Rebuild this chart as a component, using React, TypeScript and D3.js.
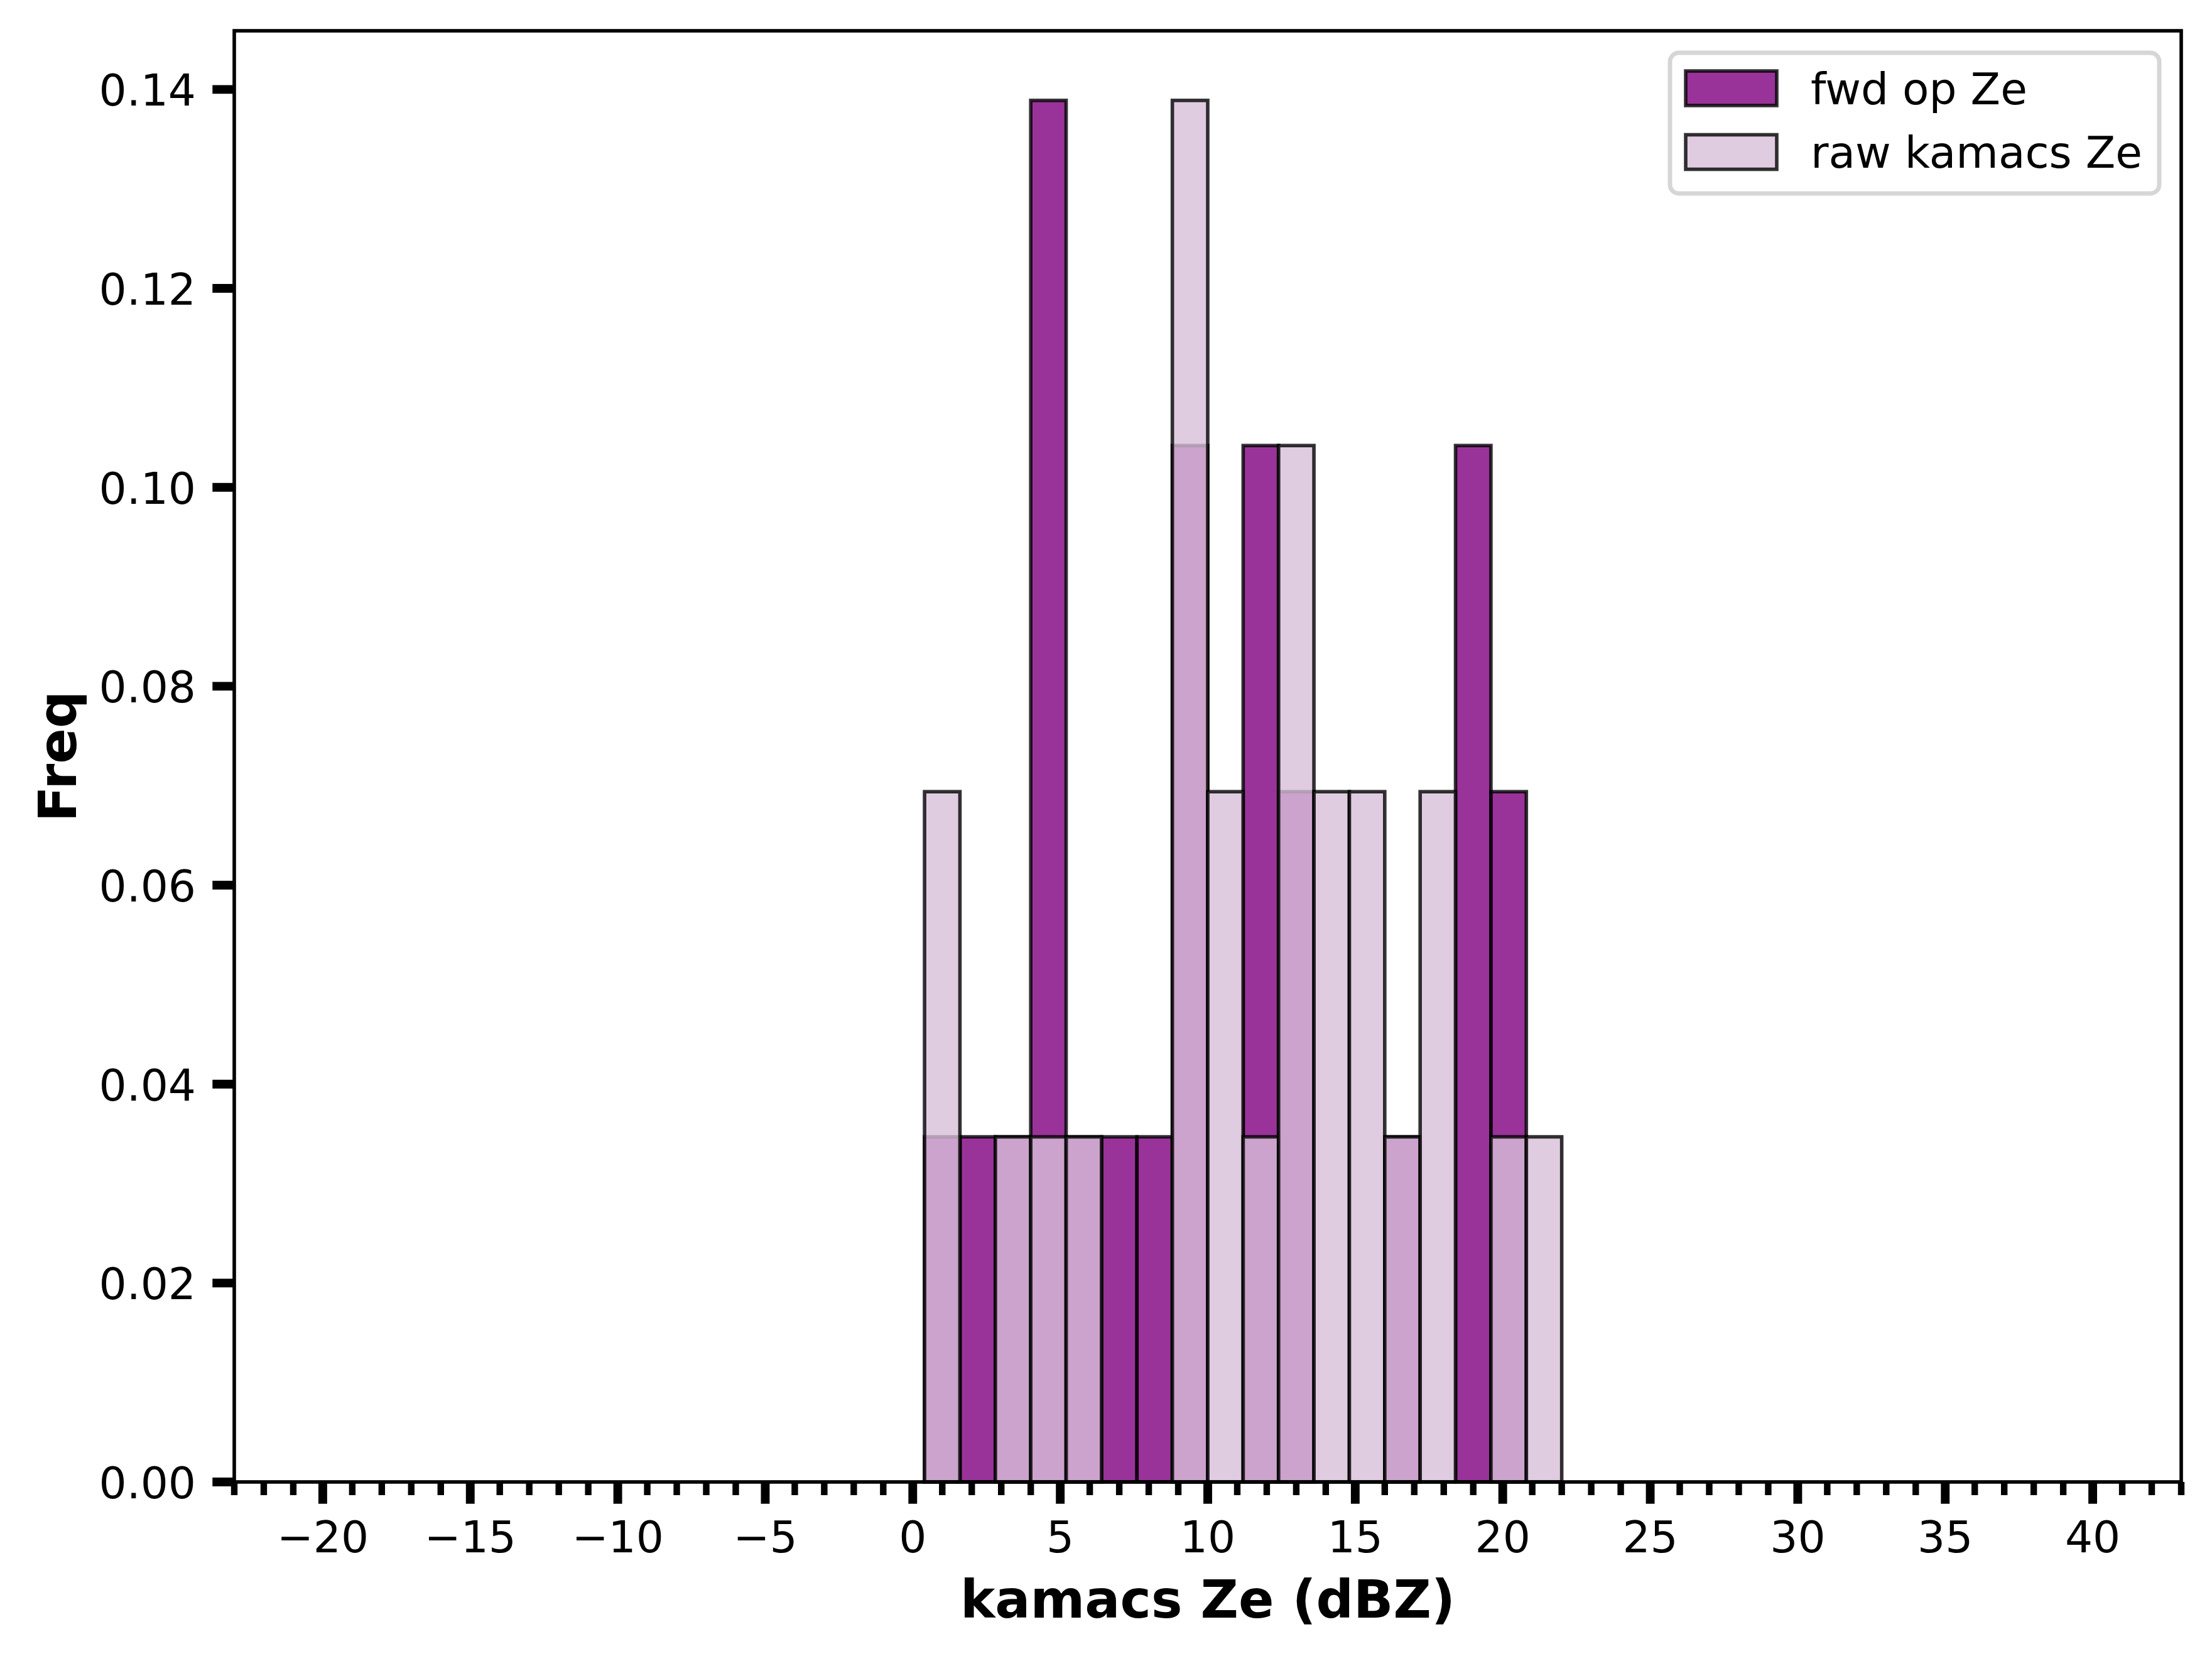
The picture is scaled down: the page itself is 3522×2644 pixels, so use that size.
import { useEffect } from "react";
import * as d3 from "d3";

// histogram bins (dBZ), shared by both series
const binEdges = [0.4, 1.6, 2.8, 4.0, 5.2, 6.4, 7.6, 8.8, 10.0, 11.2, 12.4, 13.6, 14.8, 16.0, 17.2, 18.4, 19.6, 20.8, 22.0];

// density per bin
const fwdFreq = [0.0347, 0.0347, 0.0347, 0.1389, 0.0347, 0.0347, 0.0347, 0.1042, 0, 0.1042, 0.0694, 0, 0, 0.0347, 0, 0.1042, 0.0694, 0];
const rawFreq = [0.0694, 0, 0.0347, 0.0347, 0.0347, 0, 0, 0.1389, 0.0694, 0.0347, 0.1042, 0.0694, 0.0694, 0.0347, 0.0694, 0, 0.0347, 0.0347];

const seriesNames = ["fwd op Ze", "raw kamacs Ze"];
const seriesColors = ["#800080", "#d8bfd8"];

const xMajorTicks = [-20, -15, -10, -5, 0, 5, 10, 15, 20, 25, 30, 35, 40];
const yTicks = [0, 0.02, 0.04, 0.06, 0.08, 0.1, 0.12, 0.14];

const W = 3522;
const H = 2644;
const FONT = "DejaVu Sans, Verdana, sans-serif";

const App = () => {
  useEffect(() => {
    document.body.style.margin = "0";
  }, []);

  const x = d3.scaleLinear().domain([-23, 43]).range([373, 3473]);
  const y = d3.scaleLinear().domain([0, 0.1459]).range([2359, 49]);
  const [x0, x1] = x.range();
  const [yb, yt] = y.range();

  const minorTicks = d3.range(-23, 44);
  const fmtY = d3.format(".2f");
  const fmtX = (v: number) => (v < 0 ? "\u2212" + Math.abs(v) : String(v));

  const bars = (vals: number[], color: string, key: string) =>
    vals.map((v, i) => {
      if (v <= 0) return null;
      const xa = x(binEdges[i]);
      const xb = x(binEdges[i + 1]);
      return (
        <rect
          key={key + i}
          x={xa}
          y={y(v)}
          width={xb - xa}
          height={yb - y(v)}
          fill={color}
          fillOpacity={0.8}
          stroke="#000"
          strokeOpacity={0.8}
          strokeWidth={5.6}
        />
      );
    });

  // legend geometry
  const lg = { x: 2659, y: 84, w: 779, h: 224 };
  const rows = [140.5, 242];

  return (
    <svg width={W} height={H} viewBox={`0 0 ${W} ${H}`} style={{ display: "block", background: "#fff" }} fontFamily={FONT}>
      <rect x={0} y={0} width={W} height={H} fill="#fff" />
      <g>{bars(fwdFreq, seriesColors[0], "f")}</g>
      <g>{bars(rawFreq, seriesColors[1], "r")}</g>

      {/* spines */}
      <rect x={x0} y={yt} width={x1 - x0} height={yb - yt} fill="none" stroke="#000" strokeWidth={5.6} />

      {/* x minor + major ticks */}
      {minorTicks.map((t) => (
        <line key={"mx" + t} x1={x(t)} x2={x(t)} y1={yb} y2={yb + 21} stroke="#000" strokeWidth={10.4} />
      ))}
      {xMajorTicks.map((t) => (
        <g key={"x" + t}>
          <line x1={x(t)} x2={x(t)} y1={yb} y2={yb + 34.7} stroke="#000" strokeWidth={13.9} />
          <text x={x(t)} y={2471} textAnchor="middle" fontSize={69.4} fill="#000">
            {fmtX(t)}
          </text>
        </g>
      ))}

      {/* y ticks */}
      {yTicks.map((t) => (
        <g key={"y" + t}>
          <line x1={x0 - 34.7} x2={x0} y1={y(t)} y2={y(t)} stroke="#000" strokeWidth={13.9} />
          <text x={312} y={y(t) + 26} textAnchor="end" fontSize={69.4} fill="#000">
            {fmtY(t)}
          </text>
        </g>
      ))}

      {/* axis labels */}
      <text x={(x0 + x1) / 2} y={2575} textAnchor="middle" fontSize={83.3} fontWeight="bold" fill="#000">
        kamacs Ze (dBZ)
      </text>
      <text
        transform={`translate(121,${(yb + yt) / 2}) rotate(-90)`}
        textAnchor="middle"
        fontSize={83.3}
        fontWeight="bold"
        fill="#000"
      >
        Freq
      </text>

      {/* legend */}
      <g>
        <rect x={lg.x} y={lg.y} width={lg.w} height={lg.h} rx={14} ry={14} fill="#fff" fillOpacity={0.8} stroke="#cccccc" strokeOpacity={0.8} strokeWidth={6.9} />
        {seriesNames.map((name, i) => (
          <g key={name}>
            <rect
              x={2684}
              y={rows[i] - 27.5}
              width={145}
              height={55}
              fill={seriesColors[i]}
              fillOpacity={0.8}
              stroke="#000"
              strokeOpacity={0.8}
              strokeWidth={5.6}
            />
            <text x={2883} y={rows[i] + 25} fontSize={69.4} fill="#000">
              {name}
            </text>
          </g>
        ))}
      </g>
    </svg>
  );
};

export default App;
